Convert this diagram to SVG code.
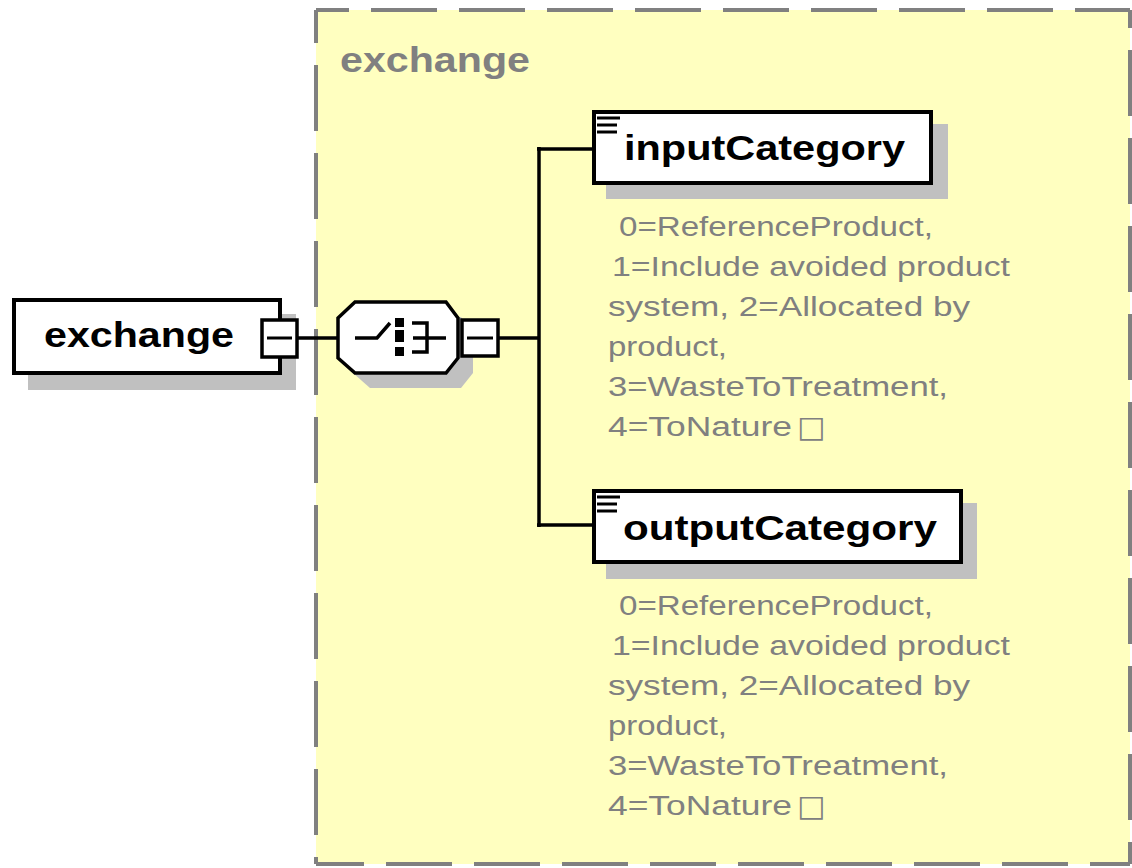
<svg xmlns="http://www.w3.org/2000/svg" width="1132" height="868" viewBox="0 0 1132 868">
<style>
.bg{fill:#FFFFFF}
.frame{fill:#FFFFC0;stroke:none}
.dash{fill:none;stroke:#808080;stroke-width:4;stroke-dasharray:66 22}
.box{fill:#FFFFFF;stroke:#000000;stroke-width:4}
.shadow{fill:#C0C0C0;stroke:none}
.conn{fill:none;stroke:#000000;stroke-width:3.5}
.mbox{fill:#FFFFFF;stroke:#000000;stroke-width:3.5}
.name{font-family:"Liberation Sans",Arial,sans-serif;font-weight:bold;font-size:35px;fill:#000000}
.title{font-family:"Liberation Sans",Arial,sans-serif;font-weight:bold;font-size:35px;fill:#808080}
.doc{font-family:"Liberation Sans","DejaVu Sans",Arial,sans-serif;font-size:27px;fill:#808080}
.icon{stroke:#000000;stroke-width:3}
</style>
<rect class="bg" x="0" y="0" width="1132" height="868"/>
<g id="frame-exchange">
  <rect class="frame" x="316" y="10" width="814" height="854"/>
  <path class="dash" d="M316,10 H1130" stroke-dashoffset="33"/>
  <path class="dash" d="M316,10 V864" stroke-dashoffset="33"/>
  <path class="dash" d="M1130,864 V10" stroke-dashoffset="44"/>
  <path class="dash" d="M1130,864 H316" stroke-dashoffset="26"/>
  <text class="title" x="340" y="72" textLength="190" lengthAdjust="spacingAndGlyphs">exchange</text>
</g>
<g id="connectors">
  <line class="conn" x1="297" y1="338" x2="340" y2="338"/>
  <line class="conn" x1="497" y1="338" x2="539" y2="338"/>
  <line class="conn" x1="539" y1="147" x2="539" y2="527"/>
  <line class="conn" x1="537" y1="149" x2="594" y2="149"/>
  <line class="conn" x1="537" y1="525" x2="594" y2="525"/>
</g>
<g id="node-exchange">
  <rect class="shadow" x="28" y="314" width="268" height="76"/>
  <rect class="box" x="14" y="300" width="266" height="73"/>
  <text class="name" x="44" y="347" font-size="33" textLength="190" lengthAdjust="spacingAndGlyphs">exchange</text>
  <rect class="mbox" x="262" y="320" width="35" height="37"/>
  <line class="icon" x1="267" y1="338" x2="292" y2="338" stroke-width="4"/>
</g>
<g id="node-sequence">
  <path class="shadow" d="M370,317 L461,317 L473,333 L473,373 L461,388 L370,388 L353,373 L353,333 Z"/>
  <path class="mbox" d="M355,302 L446,302 L458,318 L458,358 L446,373 L355,373 L338,358 L338,318 Z"/>
  <polyline fill="none" stroke="#000" stroke-width="3.5" points="355,338 377,338 390,323"/>
  <rect x="395" y="318" width="9" height="9" fill="#000"/>
  <rect x="395" y="330" width="9" height="12" fill="#000"/>
  <rect x="395" y="347" width="9" height="9" fill="#000"/>
  <polyline fill="none" stroke="#000" stroke-width="3.5" points="412,323 427,323 427,352 412,352"/>
  <line x1="413" y1="338" x2="446" y2="338" stroke="#000" stroke-width="3.5"/>
  <rect class="mbox" x="462" y="320" width="36" height="36"/>
  <line class="icon" x1="467" y1="338" x2="493" y2="338" stroke-width="4"/>
</g>
<g id="node-inputCategory">
  <rect class="shadow" x="606" y="124" width="342" height="75"/>
  <rect class="box" x="594" y="112" width="337" height="71"/>
  <line class="icon" x1="597" y1="118" x2="620" y2="118"/>
  <line class="icon" x1="597" y1="125" x2="617" y2="125"/>
  <line class="icon" x1="597" y1="132" x2="617" y2="132"/>
  <text class="name" x="624" y="160" textLength="281" lengthAdjust="spacingAndGlyphs">inputCategory</text>
  <text class="doc">
    <tspan x="619" y="236" textLength="314" lengthAdjust="spacingAndGlyphs">0=ReferenceProduct,</tspan>
    <tspan x="612" y="276" textLength="398" lengthAdjust="spacingAndGlyphs">1=Include avoided product</tspan>
    <tspan x="608" y="316" textLength="362" lengthAdjust="spacingAndGlyphs">system, 2=Allocated by</tspan>
    <tspan x="608" y="356" textLength="119" lengthAdjust="spacingAndGlyphs">product,</tspan>
    <tspan x="608" y="396" textLength="340" lengthAdjust="spacingAndGlyphs">3=WasteToTreatment,</tspan>
    <tspan x="608" y="436" textLength="184" lengthAdjust="spacingAndGlyphs">4=ToNature</tspan><tspan x="797" y="437" font-family="'DejaVu Sans',sans-serif" font-size="30">□</tspan>
  </text>
</g>
<g id="node-outputCategory">
  <rect class="shadow" x="606" y="503" width="371" height="76"/>
  <rect class="box" x="594" y="491" width="367" height="71"/>
  <line class="icon" x1="597" y1="497" x2="620" y2="497"/>
  <line class="icon" x1="597" y1="504" x2="617" y2="504"/>
  <line class="icon" x1="597" y1="511" x2="617" y2="511"/>
  <text class="name" x="623" y="540" textLength="314" lengthAdjust="spacingAndGlyphs">outputCategory</text>
  <text class="doc">
    <tspan x="619" y="615" textLength="314" lengthAdjust="spacingAndGlyphs">0=ReferenceProduct,</tspan>
    <tspan x="612" y="655" textLength="398" lengthAdjust="spacingAndGlyphs">1=Include avoided product</tspan>
    <tspan x="608" y="695" textLength="362" lengthAdjust="spacingAndGlyphs">system, 2=Allocated by</tspan>
    <tspan x="608" y="735" textLength="119" lengthAdjust="spacingAndGlyphs">product,</tspan>
    <tspan x="608" y="775" textLength="340" lengthAdjust="spacingAndGlyphs">3=WasteToTreatment,</tspan>
    <tspan x="608" y="815" textLength="184" lengthAdjust="spacingAndGlyphs">4=ToNature</tspan><tspan x="797" y="816" font-family="'DejaVu Sans',sans-serif" font-size="30">□</tspan>
  </text>
</g>
</svg>
